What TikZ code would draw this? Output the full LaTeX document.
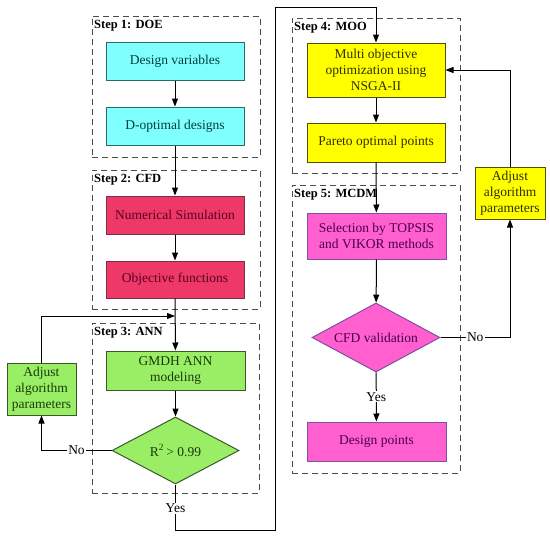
\documentclass[tikz,border=0pt]{standalone}
\usepackage{fontspec}
\setmainfont{Liberation Serif}
\usetikzlibrary{arrows.meta,shapes.geometric,calc}
\definecolor{cyfill}{HTML}{80FFFF}\definecolor{cydraw}{HTML}{2F6A6A}\definecolor{cytext}{HTML}{003F3F}
\definecolor{rdfill}{HTML}{EE3868}\definecolor{rddraw}{HTML}{7A3046}\definecolor{rdtext}{HTML}{5A0022}
\definecolor{grfill}{HTML}{99EE66}\definecolor{grdraw}{HTML}{3A5A2A}\definecolor{grtext}{HTML}{1A3A0A}
\definecolor{ylfill}{HTML}{FFFF00}\definecolor{yldraw}{HTML}{505000}\definecolor{yltext}{HTML}{303000}
\definecolor{mgfill}{HTML}{FF5FCF}\definecolor{mgdraw}{HTML}{8050A0}\definecolor{mgtext}{HTML}{4A004A}
\tikzset{
  box/.style={rectangle, draw, line width=1pt, align=center, inner sep=1pt,
    font=\fontsize{13.5}{16}\selectfont},
  dec/.style={diamond, draw, line width=1pt, align=center, inner sep=0pt, aspect=1.9,
    font=\fontsize{13.5}{16}\selectfont},
  cybox/.style={box, fill=cyfill, draw=cydraw, text=cytext},
  rdbox/.style={box, fill=rdfill, draw=rddraw, text=rdtext},
  grbox/.style={box, fill=grfill, draw=grdraw, text=grtext},
  ylbox/.style={box, fill=ylfill, draw=yldraw, text=yltext},
  mgbox/.style={box, fill=mgfill, draw=mgdraw, text=mgtext},
  frame/.style={rectangle, draw=black!70, line width=1pt, dash pattern=on 6pt off 4pt, inner sep=0pt},
  steplabel/.style={anchor=north west, inner sep=1pt, font=\bfseries\fontsize{12.5}{14}\selectfont},
  conn/.style={line width=1pt, draw=black},
  arr/.style={conn, -{Triangle[length=8pt,width=6pt]}},
  lbl/.style={fill=white, inner sep=1pt, font=\fontsize{13.5}{16}\selectfont}
}
\begin{document}
\begin{tikzpicture}[x=1pt,y=-1pt]
\useasboundingbox (0,0) rectangle (550,538);
% frames
\node[frame, minimum width=168pt, minimum height=141pt] (f1) at (176,86.5) {};
\node[steplabel] (s1) at (93,19) {Step 1: DOE};
\node[frame, minimum width=168pt, minimum height=139pt] (f2) at (176,239.5) {};
\node[steplabel] (s2) at (93,173) {Step 2: CFD};
\node[frame, minimum width=167pt, minimum height=170pt] (f3) at (175.5,408) {};
\node[steplabel] (s3) at (93,326) {Step 3: ANN};
\node[frame, minimum width=168pt, minimum height=155pt] (f4) at (376,95.5) {};
\node[steplabel] (s4) at (293,21) {Step 4: MOO};
\node[frame, minimum width=168pt, minimum height=288pt] (f5) at (376,329) {};
\node[steplabel] (s5) at (293,188) {Step 5: MCDM};
% boxes
\node[cybox, minimum width=138pt, minimum height=38pt] (dv) at (175,61) {Design variables};
\node[cybox, minimum width=138pt, minimum height=38pt] (dopt) at (175,126) {D-optimal designs};
\node[rdbox, minimum width=138pt, minimum height=38pt] (ns) at (175,215) {Numerical Simulation};
\node[rdbox, minimum width=138pt, minimum height=37pt] (of) at (175,279.5) {Objective functions};
\node[grbox, minimum width=139pt, minimum height=39pt] (gm) at (175.5,370.5) {GMDH ANN\\modeling};
\node[dec, fill=grfill, draw=grdraw, text=grtext, minimum width=127pt, minimum height=67pt] (r2) at (175.5,450.5) {R\textsuperscript{2}\,> 0.99};
\node[grbox, minimum width=69pt, minimum height=52pt] (adl) at (41.5,389) {Adjust\\algorithm\\parameters};
\node[ylbox, minimum width=138pt, minimum height=54pt] (moo) at (376,70) {Multi objective\\optimization using\\NSGA-II};
\node[ylbox, minimum width=138pt, minimum height=39pt] (par) at (376,142.5) {Pareto optimal points};
\node[ylbox, minimum width=70pt, minimum height=52pt] (adr) at (510,193) {Adjust\\algorithm\\parameters};
\node[mgbox, minimum width=139pt, minimum height=46pt] (sel) at (376.5,236) {Selection by TOPSIS\\and VIKOR methods};
\node[dec, fill=mgfill, draw=mgdraw, text=mgtext, minimum width=128pt, minimum height=69pt] (cfd) at (376,337.5) {CFD validation};
\node[mgbox, minimum width=139pt, minimum height=39pt] (dp) at (376.5,441.5) {Design points};
% coordinates
\coordinate (merge) at (175,316);
\coordinate (yb) at (175.5,530);
\coordinate (yr) at (275,530);
\coordinate (yt) at (275,7);
\coordinate (mt) at (376,7);
% connectors
\draw[arr] (dv) -- (dopt);
\draw[arr] (dopt) -- (ns);
\draw[arr] (ns) -- (of);
\draw[arr] (of) -- (gm);
\draw[arr] (gm) -- (r2);
\draw[arr] (adl.north) |- (merge);
\draw[arr] (r2.west) -| node[lbl, pos=0.25] {No} (adl.south);
\draw[conn] (r2.south) -- node[lbl, pos=0.52] {Yes} (yb) -- (yr) -- (yt) -- (mt);
\draw[arr] (mt) -- (moo.north);
\draw[arr] (moo) -- (par);
\draw[arr] (par) -- (sel);
\draw[arr] (sel) -- (cfd);
\draw[arr] (cfd) -- node[lbl, pos=0.5] {Yes} (dp);
\draw[arr] (cfd.east) -| node[lbl, pos=0.25] {No} (adr.south);
\draw[arr] (adr.north) |- (moo.east);
\end{tikzpicture}
\end{document}
